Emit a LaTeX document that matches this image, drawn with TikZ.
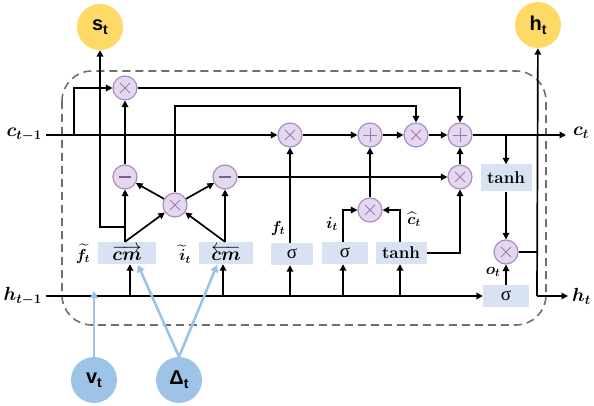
\RequirePackage{fix-cm}
\documentclass[tikz,border=0pt]{standalone}
\usepackage{amsmath,bm}
\usepackage{fontspec}
\newfontfamily\lsans{Liberation Sans}
\newfontfamily\lserif{Liberation Serif}
\usetikzlibrary{arrows.meta}
\definecolor{cyel}{HTML}{FFD966}
\definecolor{cblu}{HTML}{9DC3E6}
\definecolor{copf}{HTML}{E4D8EE}
\definecolor{copb}{HTML}{A88CC2}
\definecolor{cbox}{HTML}{D9E2F3}
\definecolor{cdash}{HTML}{6F6F6F}
\tikzset{
  ln/.style={line width=1.7pt, black},
  arr/.style={ln, -{Triangle[length=6.5pt,width=6.5pt]}},
  tarr/.style={arr, line width=2.1pt},
  barr/.style={line width=2.6pt, cblu, -{Triangle[length=7pt,width=8pt]}},
  op/.style={circle, draw=copb, fill=copf, line width=1.2pt, minimum size=24pt, inner sep=0pt},
  opl/.style={draw=copb!90!black, line width=0.8pt},
  mulop/.style={op, path picture={
    \draw[opl] ([shift={(-5pt,-5pt)}]path picture bounding box.center) -- ([shift={(5pt,5pt)}]path picture bounding box.center)
               ([shift={(-5pt,5pt)}]path picture bounding box.center) -- ([shift={(5pt,-5pt)}]path picture bounding box.center);}},
  addop/.style={op, path picture={
    \draw[opl] ([shift={(-7pt,0pt)}]path picture bounding box.center) -- ([shift={(7pt,0pt)}]path picture bounding box.center)
               ([shift={(0pt,-7pt)}]path picture bounding box.center) -- ([shift={(0pt,7pt)}]path picture bounding box.center);}},
  subop/.style={op, path picture={
    \draw[draw=copb!70!black, line width=1.3pt] ([shift={(-6pt,0pt)}]path picture bounding box.center) -- ([shift={(6pt,0pt)}]path picture bounding box.center);}},
  gbox/.style={fill=cbox, minimum height=22pt, inner sep=0pt, font=\fontsize{17}{19}\selectfont},
  ycirc/.style={circle, fill=cyel, minimum size=46pt, inner sep=0pt, font=\lsans\bfseries\fontsize{20}{22}\selectfont},
  bcirc/.style={circle, fill=cblu, minimum size=46pt, inner sep=0pt, font=\lsans\bfseries\fontsize{20}{22}\selectfont},
  lbl/.style={inner sep=0pt, font=\boldmath\fontsize{19}{21}\selectfont},
  slbl/.style={inner sep=0pt, font=\boldmath\fontsize{16}{18}\selectfont},
}
\newcommand{\subt}{\raisebox{-0.35ex}{\fontsize{14}{14}\selectfont t}}
\newcommand{\sig}{{\lserif\fontsize{19}{21}\selectfont σ}}
\begin{document}
\begin{tikzpicture}[x=1pt,y=-1pt]
\useasboundingbox (0,0) rectangle (594,406);
% dashed frame
\draw[cdash, line width=1.6pt, dash pattern=on 8pt off 5pt, rounded corners=30pt] (62,71) rectangle (546,325);

% output circles
\node[ycirc] (st) at (100,27) {s\subt};
\node[ycirc] (ht) at (538,25) {h\subt};
\node[bcirc] (vt) at (94,380) {v\subt};
\node[bcirc] (dt) at (179,380) {Δ\subt};

% operators
\node[mulop] (m1) at (125,88) {};
\node[subop] (mn1) at (125,177) {};
\node[subop] (mn2) at (225,177) {};
\node[mulop] (mc) at (175,205) {};
\node[mulop] (m2) at (290,135) {};
\node[addop] (p1) at (370,135) {};
\node[mulop] (m3) at (416,135) {};
\node[addop] (p2) at (460,135) {};
\node[mulop] (m4) at (370,210) {};
\node[mulop] (m5) at (460,177) {};
\node[mulop] (m6) at (506,252) {};

% boxes
\node[gbox, minimum width=58pt, font=\fontsize{19}{21}\selectfont] (cmL) at (127,253) {$\overrightarrow{\bm{cm}}$};
\node[gbox, minimum width=54pt, font=\fontsize{19}{21}\selectfont] (cmR) at (226,253) {$\overleftarrow{\bm{cm}}$};
\node[gbox, minimum width=42pt] (sf) at (292,254) {\sig};
\node[gbox, minimum width=46pt] (si) at (345,253) {\sig};
\node[gbox, minimum width=51pt] (th1) at (401,253) {\bfseries tanh};
\node[gbox, minimum width=51pt, minimum height=27pt] (th2) at (506,178) {\bfseries tanh};
\node[gbox, minimum width=46pt] (so) at (506,296) {\sig};

% labels
\node[lbl, anchor=east] (cprev) at (42,135) {$c_{t-1}$};
\node[lbl, anchor=east] (hprev) at (42,296) {$h_{t-1}$};
\node[lbl, anchor=west] (ct) at (573,133) {$c_t$};
\node[lbl, anchor=west] (htl) at (572,296) {$h_t$};
\node[slbl] (lft) at (83,254) {$\widetilde{f}_t$};
\node[slbl] (lit) at (185,254) {$\widetilde{i}_t$};
\node[slbl] (lf) at (278,228) {$f_t$};
\node[slbl] (li) at (332,224) {$i_t$};
\node[slbl] (lc) at (414,219) {$\widehat{c}_t$};
\node[slbl] (lo) at (493,272) {$o_t$};

% coordinates
\coordinate (cs) at (46,135);
\coordinate (hs) at (46,296);
\coordinate (b1) at (74,135);
\coordinate (sb) at (125,227);
\coordinate (ce) at (566,135);
\coordinate (cb) at (506,135);
\coordinate (hv) at (537,296);
\coordinate (hj) at (537,252);
\coordinate (he) at (568,296);

% cell state row
\draw[arr] (cs) -- (m2);
\draw[arr] (b1) |- (m1);
\draw[arr] (m1) -| (p2);
\draw[arr] (mc) |- (175,106) -| (m3);
\draw[arr] (m2) -- (p1);
\draw[arr] (p1) -- (m3);
\draw[arr] (m3) -- (p2);
\draw[arr] (p2) -- (ce);
\draw[arr] (cb) -- (th2);
\draw[arr] (th2) -- (m6);
\draw[arr] (so) -- (m6);
\draw[ln, line width=2.2pt] (m6) -- (hj);
\draw[arr] (hv) -- (ht);
\draw[arr] (hv) -- (he);

% left structure
\draw[arr] (mn1) -- (m1);
\draw[arr] (mc) -- (mn1);
\draw[arr] (mc) -- (mn2);
\draw[arr] (cmL.north -| mn1) -- (mn1);
\draw[tarr] (cmR.north -| mn2) -- (mn2);
\draw[arr] (cmL.north -| mn1) -- (mc);
\draw[arr] (cmR.north -| mn2) -- (mc);
\draw[arr] (sb) -| (st);
\draw[arr] (mn2) -- (m5);

% gates
\draw[arr] (sf.north -| m2) -- (m2);
\draw[tarr] (si.north -| 343,0) |- (m4);
\draw[tarr] (th1.north -| 400,0) |- (m4);
\draw[tarr] (m4) -- (p1);
\draw[arr] (th1.east) -| (m5);
\draw[arr] (m5) -- (p2);

% hidden row
\draw[arr] (hs) -- (so);
\draw[tarr] (130,296) -- (cmL.south -| 130,0);
\draw[tarr] (223,296) -- (cmR.south -| 223,0);
\draw[tarr] (290,296) -- (sf.south -| 290,0);
\draw[tarr] (343,296) -- (si.south -| 343,0);
\draw[tarr] (400,296) -- (th1.south -| 400,0);

% blue inputs
\draw[barr] (vt) -- (94,291);
\draw[barr] (dt.north) -- (138,265);
\draw[barr] (dt.north) -- (217,265);
\end{tikzpicture}
\end{document}
